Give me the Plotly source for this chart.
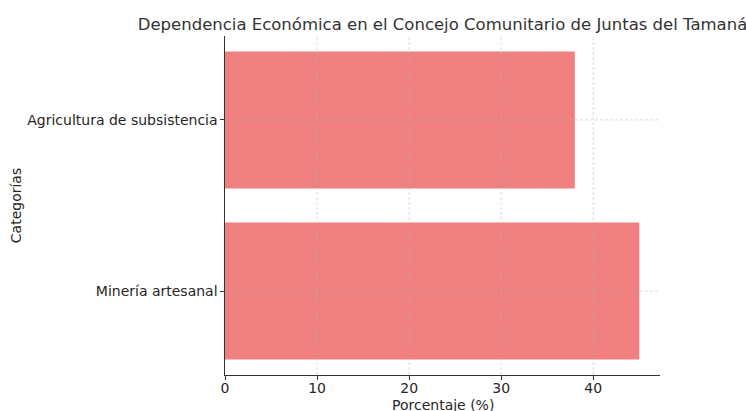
import plotly.graph_objects as go

categories = ["Minería artesanal", "Agricultura de subsistencia"]
values = [45, 38]
x_ticks = [0, 10, 20, 30, 40]
title = "Dependencia Económica en el Concejo Comunitario de Juntas del Tamaná"
x_title = "Porcentaje (%)"
y_title = "Categorías"

fig = go.Figure()
fig.add_trace(go.Bar(
    y=categories, x=values, orientation="h",
    marker=dict(color="#F08080", line=dict(width=0)),
    width=0.8,
))

grid = dict(color="rgba(176,176,176,0.6)", width=0.8, dash="3px,2px")
for t in x_ticks[1:]:
    fig.add_shape(type="line", xref="x", yref="paper", x0=t, x1=t, y0=0, y1=1,
                  line=grid, layer="above")
for c in categories:
    fig.add_shape(type="line", xref="paper", yref="y", x0=0, x1=1, y0=c, y1=c,
                  line=grid, layer="above")

fig.add_annotation(text=x_title, xref="paper", yref="paper", x=0.5, y=0,
                   xanchor="center", yanchor="top", yshift=-20, showarrow=False,
                   font=dict(size=14, color="#262626"))

fig.update_layout(
    width=746, height=411,
    margin=dict(l=225, r=86, t=36, b=36, autoexpand=False),
    paper_bgcolor="white", plot_bgcolor="white",
    font=dict(family="DejaVu Sans", size=14, color="#262626"),
    title=dict(text=title, x=0.5, xref="paper", xanchor="center",
               y=1 - 24 / 411, yanchor="middle", yref="container",
               font=dict(size=16.5, color="#333333")),
    showlegend=False,
    bargap=0.2,
)
fig.update_xaxes(
    range=[0, 47.25], tickvals=x_ticks, ticks="outside", ticklen=3.5,
    ticklabelstandoff=-3,
    tickcolor="#333333", showline=True, linecolor="#333333", linewidth=1.2,
    showgrid=False, zeroline=False, automargin=False,
)
fig.update_yaxes(
    type="category", range=[-0.49, 1.49], ticks="outside", ticklen=3.5,
    tickcolor="#333333", showline=True, linecolor="#333333", linewidth=1.2,
    showgrid=False, zeroline=False, automargin=False,
    title=dict(text=y_title, standoff=2, font=dict(size=14)),
)

fig.write_html("out.html")
